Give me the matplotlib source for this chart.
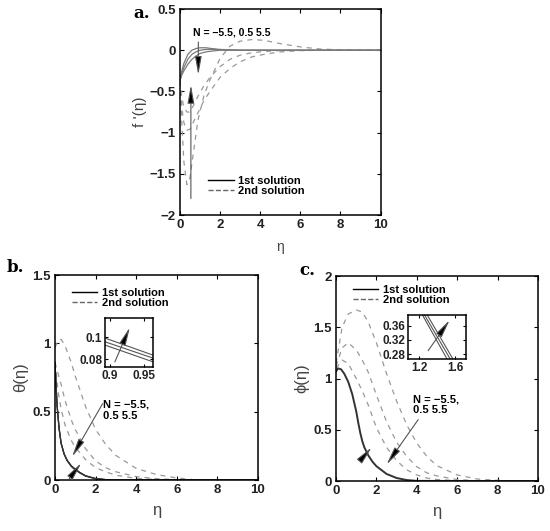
import numpy as np
import matplotlib.pyplot as plt
from matplotlib.lines import Line2D

plt.rcParams['font.family'] = ['Liberation Sans', 'DejaVu Sans']

# ---- donnees ----
# (a) f'(eta)
eta_a1 = [0, 0.1, 0.2, 0.4, 0.6, 0.8, 1.0, 1.3, 1.6, 2.0, 3.0, 10]
fa_sol = [
    [-0.37, -0.25, -0.16, -0.05, 0.0, 0.02, 0.03, 0.03, 0.02, 0.01, 0.0, 0.0],
    [-0.37, -0.28, -0.21, -0.11, -0.05, -0.02, 0.0, 0.01, 0.01, 0.005, 0.0, 0.0],
    [-0.37, -0.30, -0.25, -0.17, -0.11, -0.07, -0.04, -0.02, -0.01, 0.0, 0.0, 0.0],
]
eta_a2 = [0, 0.1, 0.2, 0.35, 0.5, 0.7, 0.9, 1.2, 1.5, 2.0, 2.5, 3.0, 3.6, 4.2, 5.0, 6.0, 7.0, 8.0, 10]
fa_dash = [
    [-0.37, -0.9, -1.35, -1.63, -1.55, -1.2, -0.85, -0.55, -0.36, -0.1, 0.05, 0.11, 0.13, 0.12, 0.08, 0.04, 0.015, 0.005, 0.0],
    [-0.37, -0.7, -0.88, -0.97, -0.96, -0.86, -0.76, -0.61, -0.5, -0.33, -0.22, -0.14, -0.08, -0.05, -0.02, -0.005, 0.0, 0.0, 0.0],
    [-0.37, -0.58, -0.69, -0.75, -0.75, -0.66, -0.56, -0.43, -0.33, -0.2, -0.11, -0.06, -0.03, -0.015, -0.005, 0.0, 0.0, 0.0, 0.0],
]
ticks_a_y = [-2, -1.5, -1, -0.5, 0, 0.5]
labels_a_y = ['−2', '−1.5', '−1', '−0.5', '0', '0.5']

# (b) theta(eta)
eta_b1 = [0, 0.05, 0.1, 0.2, 0.3, 0.45, 0.6, 0.8, 0.9, 1.0, 1.2, 1.5, 2.0, 2.5, 3.0, 10]
tb_sol = [
    [0.86, 0.70, 0.55, 0.38, 0.27, 0.19, 0.145, 0.105, 0.092, 0.081, 0.058, 0.032, 0.011, 0.003, 0.0, 0.0],
    [0.86, 0.70, 0.55, 0.38, 0.27, 0.19, 0.143, 0.103, 0.089, 0.078, 0.056, 0.030, 0.010, 0.003, 0.0, 0.0],
    [0.86, 0.70, 0.55, 0.38, 0.27, 0.19, 0.141, 0.100, 0.086, 0.075, 0.054, 0.029, 0.009, 0.002, 0.0, 0.0],
]
eta_b2 = [0, 0.15, 0.3, 0.5, 0.8, 1.0, 1.5, 2.0, 2.5, 3.0, 4.0, 5.0, 6.0, 7.0, 10]
tb_dash = [
    [0.97, 1.02, 1.03, 0.98, 0.86, 0.76, 0.54, 0.37, 0.26, 0.18, 0.085, 0.04, 0.015, 0.0, 0.0],
    [0.86, 0.78, 0.70, 0.58, 0.44, 0.37, 0.23, 0.14, 0.09, 0.06, 0.025, 0.01, 0.003, 0.0, 0.0],
    [0.86, 0.65, 0.52, 0.40, 0.29, 0.24, 0.15, 0.09, 0.06, 0.035, 0.012, 0.004, 0.0, 0.0, 0.0],
]
ticks_b_y = [0, 0.5, 1, 1.5]
labels_b_y = ['0', '0.5', '1', '1.5']
# zoom (b)
eta_bz = [0.8926, 0.963]
tb_zoom = [[0.0992, 0.0837], [0.0958, 0.0810], [0.0928, 0.0776]]

# (c) phi(eta)
eta_c1 = [0, 0.1, 0.25, 0.4, 0.6, 0.8, 1.0, 1.1, 1.2, 1.3, 1.4, 1.6, 1.8, 2.0, 2.5, 3.0, 3.5, 4.0, 10]
pc_sol = [1.07, 1.10, 1.09, 1.05, 0.97, 0.85, 0.68, 0.57, 0.47, 0.39, 0.33, 0.25, 0.19, 0.145, 0.07, 0.03, 0.01, 0.002, 0.0]
eta_c2 = [0, 0.3, 0.6, 1.0, 1.3, 1.6, 2.0, 2.5, 3.0, 3.5, 4.0, 4.5, 5.0, 6.0, 7.0, 8.0, 9.0, 10]
pc_dash = [
    [1.15, 1.50, 1.63, 1.67, 1.65, 1.55, 1.35, 1.05, 0.78, 0.55, 0.37, 0.24, 0.15, 0.06, 0.02, 0.008, 0.0, 0.0],
    [1.12, 1.30, 1.35, 1.28, 1.18, 1.06, 0.84, 0.58, 0.38, 0.24, 0.14, 0.08, 0.05, 0.015, 0.004, 0.0, 0.0, 0.0],
    [1.10, 1.18, 1.15, 1.00, 0.88, 0.74, 0.52, 0.33, 0.20, 0.11, 0.06, 0.03, 0.015, 0.004, 0.0, 0.0, 0.0, 0.0],
]
ticks_c_y = [0, 0.5, 1, 1.5, 2]
labels_c_y = ['0', '0.5', '1', '1.5', '2']
# zoom (c)
pc_zoom_y = [0.39, 0.267]
eta_cz = [[1.237, 1.51], [1.26, 1.545], [1.29, 1.575]]

ticks_x = [0, 2, 4, 6, 8, 10]

sol_col = '#333333'
dash_col = '#999999'


def style_axes(ax, xt, yt, xl, yl, xlab, ylab, fs=9.5):
    ax.set_xlim(*xl)
    ax.set_ylim(*yl)
    ax.set_xticks(xt)
    ax.set_yticks(yt)
    ax.set_xticklabels(xlab)
    ax.set_yticklabels(ylab)
    ax.tick_params(direction='in', top=True, right=True, length=3, width=0.8, pad=3)
    for lab in ax.get_xticklabels() + ax.get_yticklabels():
        lab.set_fontweight('bold')
        lab.set_fontsize(fs)
        lab.set_color('#222222')
    for s in ax.spines.values():
        s.set_linewidth(1.1)


def fleche(ax, xy_from, xy_to):
    ax.annotate('', xy=xy_to, xytext=xy_from,
                arrowprops=dict(arrowstyle='-|>,head_length=1.1,head_width=0.2',
                                fc='k', ec='#555555', lw=0.8,
                                shrinkA=0, shrinkB=0))


def legende(ax, loc, anchor):
    h = [Line2D([], [], color='k', lw=1.0), Line2D([], [], color='#666666', lw=1.0, ls='--')]
    ax.legend(h, ['1st solution', '2nd solution'], loc=loc, bbox_to_anchor=anchor,
              frameon=False, prop=dict(size=8, weight='bold'), handlelength=2.3,
              handletextpad=0.4, labelspacing=0.05, borderaxespad=0)


xlab = [str(t) for t in ticks_x]
fig = plt.figure(figsize=(5.5, 5.31), dpi=100)

# ---- (a) ----
ax = fig.add_axes([0.327, 0.595, 0.365, 0.388])
for y in fa_dash:
    ax.plot(eta_a2, y, color=dash_col, lw=0.9, dashes=(4, 4))
for y in fa_sol:
    ax.plot(eta_a1, y, color='#7a7a7a', lw=0.9)
style_axes(ax, ticks_x, ticks_a_y, (0, 10), (-2, 0.5), xlab, labels_a_y)
ax.set_xlabel('η', fontsize=10, color='#444444', labelpad=6)
ax.set_ylabel("f '(η)", fontsize=11, color='#444444', labelpad=2)
ax.text(0.66, 0.22, 'N = −5.5, 0.5 5.5', fontsize=7.5, fontweight='bold', va='center')
fleche(ax, (0.92, 0.1), (0.92, -0.3))
fleche(ax, (0.55, -1.8), (0.55, -0.42))
legende(ax, 'lower left', (0.12, 0.07))
fig.text(0.242, 0.975, 'a.', fontsize=12, fontweight='bold', family='DejaVu Serif', va='center')

# ---- (b) ----
ax = fig.add_axes([0.1, 0.096, 0.369, 0.386])
for y in tb_dash:
    ax.plot(eta_b2, y, color=dash_col, lw=0.9, dashes=(4, 4))
for y in tb_sol:
    ax.plot(eta_b1, y, color=sol_col, lw=0.9)
style_axes(ax, ticks_x, ticks_b_y, (0, 10), (0, 1.5), xlab, labels_b_y)
ax.set_xlabel('η', fontsize=12, color='#444444', labelpad=5)
ax.set_ylabel('θ(η)', fontsize=12, color='#444444', labelpad=3)
ax.text(2.36, 0.556, 'N = −5.5,', fontsize=8, fontweight='bold', va='center')
ax.text(2.36, 0.47, '0.5 5.5', fontsize=8, fontweight='bold', va='center')
fleche(ax, (2.35, 0.56), (0.84, 0.17))
fleche(ax, (0.7, 0.01), (1.3, 0.125))
legende(ax, 'upper left', (0.06, 0.96))
fig.text(0.012, 0.496, 'b.', fontsize=12, fontweight='bold', family='DejaVu Serif', va='center')

axi = fig.add_axes([0.191, 0.309, 0.0873, 0.0923])
for y in tb_zoom:
    axi.plot(eta_bz, y, color='#555555', lw=0.8)
style_axes(axi, [0.9, 0.95], [0.08, 0.1], (0.8926, 0.963), (0.073, 0.1175),
           ['0.9', '0.95'], ['0.08', '0.1'], fs=8.5)
axi.tick_params(length=2, pad=2)
fleche(axi, (0.907, 0.0776), (0.929, 0.109))

# ---- (c) ----
ax = fig.add_axes([0.611, 0.094, 0.367, 0.386])
for y in pc_dash:
    ax.plot(eta_c2, y, color=dash_col, lw=0.9, dashes=(4, 4))
ax.plot(eta_c1, pc_sol, color=sol_col, lw=1.4)
style_axes(ax, ticks_x, ticks_c_y, (0, 10), (0, 2), xlab, labels_c_y)
ax.set_xlabel('η', fontsize=12, color='#444444', labelpad=5)
ax.set_ylabel('ϕ(η)', fontsize=12, color='#444444', labelpad=3)
ax.text(3.83, 0.8, 'N = −5.5,', fontsize=8, fontweight='bold', va='center')
ax.text(3.83, 0.69, '0.5 5.5', fontsize=8, fontweight='bold', va='center')
fleche(ax, (4.07, 0.6), (2.5, 0.16))
fleche(ax, (1.19, 0.2), (1.77, 0.33))
legende(ax, 'upper left', (0.06, 0.98))
fig.text(0.545, 0.49, 'c.', fontsize=12, fontweight='bold', family='DejaVu Serif', va='center')

axi = fig.add_axes([0.742, 0.324, 0.1055, 0.0829])
for x in eta_cz:
    axi.plot(x, pc_zoom_y, color='#555555', lw=0.8)
style_axes(axi, [1.2, 1.6], [0.28, 0.32, 0.36], (1.078, 1.722), (0.267, 0.39),
           ['1.2', '1.6'], ['0.28', '0.32', '0.36'], fs=8.5)
axi.tick_params(length=2, pad=2)
fleche(axi, (1.3, 0.29), (1.54, 0.376))

fig.savefig('out.png', dpi=100)
